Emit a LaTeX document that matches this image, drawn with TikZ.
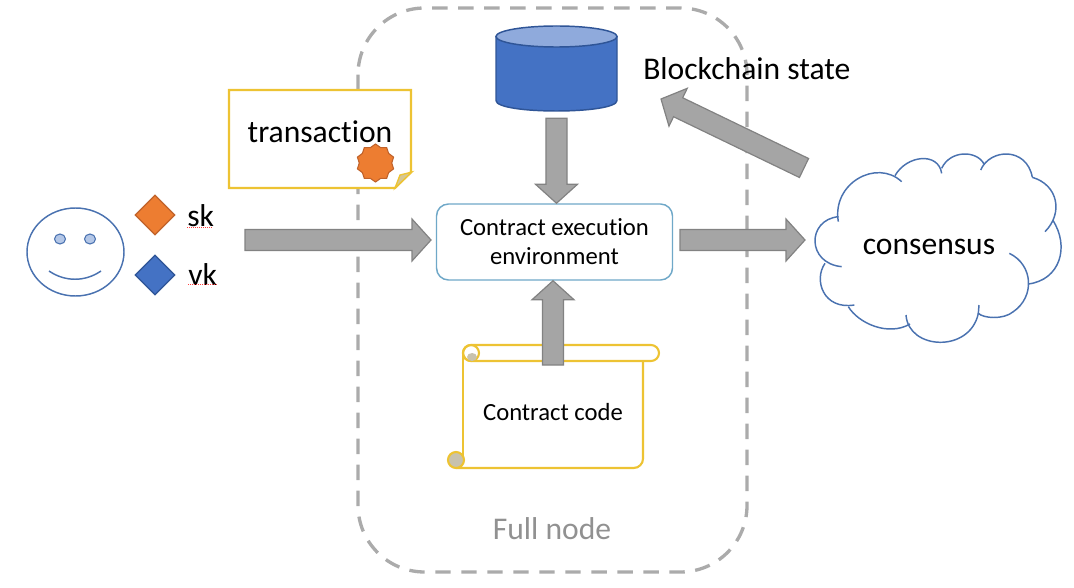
\documentclass[tikz,border=0pt]{standalone}
\usepackage{fontspec}
\setmainfont[Ligatures=NoCommon]{Carlito}
\usetikzlibrary{shapes,positioning,calc}

\definecolor{smileblue}{HTML}{4A72B0}
\definecolor{eyeblue}{HTML}{B4C7E7}
\definecolor{keyorange}{HTML}{ED7D31}
\definecolor{keyorangedark}{HTML}{C0622A}
\definecolor{keyblue}{HTML}{4472C4}
\definecolor{keybluedark}{HTML}{2F5597}
\definecolor{endblue}{HTML}{8FAADC}
\definecolor{paperyellow}{HTML}{EDC333}
\definecolor{foldtan}{HTML}{D6C795}
\definecolor{curlgray}{HTML}{C8C2AE}
\definecolor{fatgray}{HTML}{A5A5A5}
\definecolor{fatedge}{HTML}{828282}
\definecolor{framegray}{HTML}{ABABAB}
\definecolor{envblue}{HTML}{6FA8C8}

\tikzset{
    bigtext/.style={font=\fontsize{23.7}{28}\selectfont, inner sep=0pt},
    midtext/.style={font=\fontsize{18.5}{21.75}\selectfont, inner sep=0pt, align=center},
    keybox/.style={diamond, draw, line width=0.9pt, minimum width=30pt, minimum height=30pt, inner sep=0pt},
    paper/.style={draw=paperyellow, line width=1.6pt},
    fatline/.style={draw=fatedge, fill=fatgray, line width=0.9pt, line join=miter},
    cloudline/.style={draw=smileblue, line width=1.1pt},
    spell/.style={draw=red!75, line width=0.5pt, densely dotted}
}

% fat arrow as a polygon between two named points
\newcommand{\fatarrow}[2]{
    \path ($(#2)!14.25pt!(#1)$) coordinate (neck);
    \draw[fatline] ($(#1)!7.9pt!90:(#2)$)
        -- ($(neck)!7.9pt!90:(#2)$)
        -- ($(neck)!15.75pt!90:(#2)$)
        -- (#2)
        -- ($(neck)!15.75pt!-90:(#2)$)
        -- ($(neck)!7.9pt!-90:(#2)$)
        -- ($(#1)!7.9pt!-90:(#2)$) -- cycle;
}

\begin{document}
\begin{tikzpicture}[x=0.75pt, y=-0.75pt]
    \useasboundingbox (0,0) rectangle (1074,588);

    % Full node frame
    \draw[framegray, line width=2.5pt, dash pattern=on 11.6pt off 7.9pt, rounded corners=50pt] (358,8) rectangle (747,572);
    \node[bigtext, text=framegray!85!black] (fullnode) at (552,529) {Full node};

    % User
    \draw[smileblue, line width=1.1pt] (75.5,252) ellipse [x radius=48.5, y radius=44];
    \draw[smileblue, line width=0.8pt, fill=eyeblue] (60,239) ellipse [x radius=5.5, y radius=5];
    \draw[smileblue, line width=0.8pt, fill=eyeblue] (90,239) ellipse [x radius=5.5, y radius=5];
    \draw[smileblue, line width=1.1pt] (49,271) .. controls (65,282) and (85,282) .. (101,271);

    % Keys
    \node[keybox, draw=keyorangedark, fill=keyorange] (sk) at (155,215) {};
    \node[keybox, draw=keybluedark, fill=keyblue] (vk) at (155,275) {};
    \node[bigtext, anchor=west] (sklabel) at (187,216) {sk};
    \node[bigtext, anchor=west] (vklabel) at (188,275) {vk};
    \draw[spell] (187,227) -- (213,227);
    \draw[spell] (188,284) -- (217,284);

    % Transaction note
    \draw[paper, fill=white] (229,90) -- (411,90) -- (411,172) -- (395,188) -- (229,188) -- cycle;
    \draw[paper, fill=foldtan, line width=1pt] (395,188) -- (400,175) -- (412,172) -- cycle;
    \node[bigtext] (transaction) at (320,132) {transaction};
    \node[star, star points=10, star point ratio=1.17, draw=keyorangedark, fill=keyorange, line width=0.8pt,
        minimum size=28.5pt, inner sep=0pt] (seal) at (375.5,163) {};

    % Blockchain state
    \node[minimum width=90.75pt, minimum height=63.75pt, inner sep=0pt] (db) at (556.5,68.5) {};
    \draw[keybluedark, line width=1.1pt, fill=keyblue] (496,36.5) -- (496,100.5)
        .. controls (496,114.5) and (617,114.5) .. (617,100.5) -- (617,36.5) -- cycle;
    \draw[keybluedark, line width=1.1pt, fill=endblue] (556.5,36.5) ellipse [x radius=60.5, y radius=10.5];
    \node[bigtext, anchor=west] (statelabel) at (643,69) {Blockchain state};

    % Contract execution environment
    \node[draw=envblue, line width=1.1pt, fill=white, rounded corners=9pt, minimum width=177pt, minimum height=57pt,
        midtext, inner sep=0pt] (env) at (554.5,242) {Contract execution\\environment};

    % Contract code scroll
    \draw[paper, rounded corners=6pt] (463,345) rectangle (659,361);
    \draw[paper] (471,353) circle [radius=8];
    \fill[curlgray] (472,357) ellipse [x radius=5, y radius=4];
    \draw[paper] (463,353) -- (463,462);
    \draw[paper, rounded corners=7pt] (456,468) -- (643,468) -- (643,361);
    \draw[paper, fill=curlgray] (456,460) circle [radius=8];
    \node[midtext] (code) at (553,412) {Contract code};

    % Consensus cloud
    \begin{scope}[shift={(800,140)}, x=0.25pt, y=-0.25pt]
        \draw[cloudline] (115,245) .. controls (95,130) and (230,55) .. (305,125);
        \draw[cloudline] (285,107) .. controls (320,45) and (415,35) .. (425,100);
        \draw[cloudline] (425,85) .. controls (450,30) and (530,30) .. (552,72);
        \draw[cloudline] (542,90) .. controls (570,25) and (680,20) .. (697,112);
        \draw[cloudline] (697,112) .. controls (775,135) and (790,220) .. (735,275);
        \draw[cloudline] (758,240) .. controls (810,320) and (780,420) .. (685,432);
        \draw[cloudline] (628,340) .. controls (700,375) and (705,470) .. (640,515)
            .. controls (610,540) and (550,535) .. (535,520) -- (537,495);
        \draw[cloudline] (318,525) .. controls (325,630) and (510,640) .. (535,520);
        \draw[cloudline] (330,552) .. controls (265,590) and (175,550) .. (145,500);
        \draw[cloudline] (163,495) .. controls (70,510) and (40,420) .. (75,370);
        \draw[cloudline] (125,380) .. controls (20,370) and (20,240) .. (115,230);
    \end{scope}
    \node[bigtext] (consensus) at (929,246.5) {consensus};

    % Arrow ends
    \coordinate (userout) at (245,240);
    \coordinate (envleft) at (431,240);
    \coordinate (dbout) at ($(db.south)+(0,7)$);
    \coordinate (envtop) at (db.south |- env.north);
    \coordinate (codeout) at (553,365);
    \coordinate (envbottom) at (codeout |- env.south);
    \coordinate (envright) at (680,240);
    \coordinate (cloudleft) at (805,240);
    \coordinate (cloudout) at (804,168);
    \coordinate (statein) at (661,99);

    % Arrows
    \fatarrow{userout}{envleft}
    \fatarrow{dbout}{envtop}
    \fatarrow{codeout}{envbottom}
    \fatarrow{envright}{cloudleft}
    \fatarrow{cloudout}{statein}
\end{tikzpicture}
\end{document}
